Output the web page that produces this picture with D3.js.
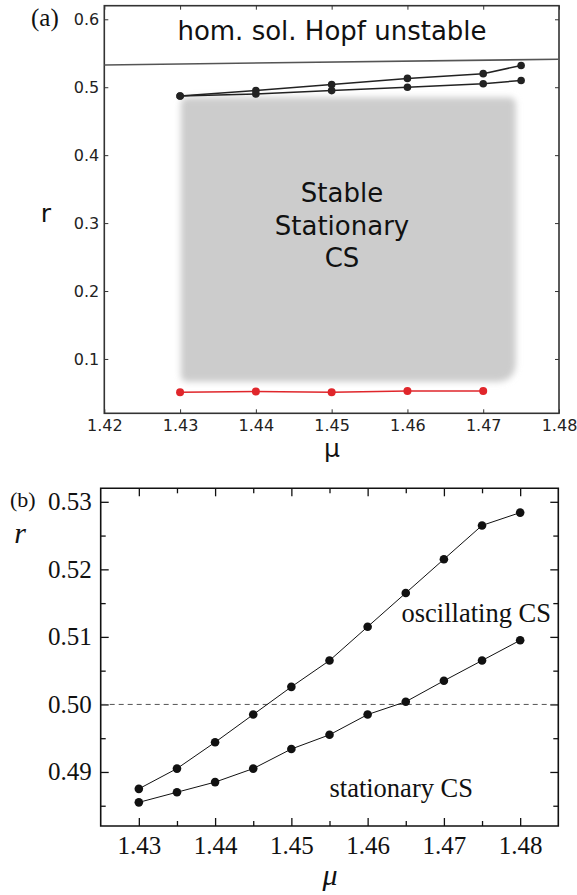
<!DOCTYPE html>
<html>
<head>
<meta charset="utf-8">
<script src="https://cdn.jsdelivr.net/npm/d3@7"></script>
<style>
  html, body { margin: 0; padding: 0; background: #fff; }
  svg { display: block; }
</style>
</head>
<body>
<svg id="fig" width="577" height="895"></svg>
<script>
// ---------- Panel (a): existence diagram ----------
const muA = [1.43, 1.44, 1.45, 1.46, 1.47, 1.475];
const upperA = [0.487, 0.495, 0.504, 0.513, 0.520, 0.532];
const lowerA = [0.487, 0.490, 0.495, 0.500, 0.505, 0.510];
const muRed = [1.43, 1.44, 1.45, 1.46, 1.47];
const rRed = [0.051, 0.052, 0.051, 0.053, 0.053];
const hopfMu = [1.42, 1.48];
const hopfR = [0.5328, 0.5412];
const stableMu = [1.4301, 1.4743];
const stableR = [0.0666, 0.485];
const xTicksA = [1.42, 1.43, 1.44, 1.45, 1.46, 1.47, 1.48];
const yTicksA = [0.1, 0.2, 0.3, 0.4, 0.5, 0.6];

// ---------- Panel (b): oscillation threshold ----------
const muB = [1.43, 1.435, 1.44, 1.445, 1.45, 1.455, 1.46, 1.465, 1.47, 1.475, 1.48];
const oscB = [0.4875, 0.4905, 0.4944, 0.4985, 0.5026, 0.5065, 0.5115, 0.5165, 0.5215, 0.5265, 0.5284];
const statB = [0.4855, 0.4870, 0.4885, 0.4905, 0.4934, 0.4955, 0.4985, 0.5004, 0.5035, 0.5065, 0.5095];
const refLineB = 0.50;
const xTicksB = [1.43, 1.44, 1.45, 1.46, 1.47, 1.48];
const xMinorB = [1.435, 1.445, 1.455, 1.465, 1.475];
const yTicksB = [0.49, 0.50, 0.51, 0.52, 0.53];
const yMinorB = [0.485, 0.495, 0.505, 0.515, 0.525];

const svg = d3.select("#fig");

// ===================== Panel (a) =====================
const A = { left: 104.3, right: 559, top: 5.7, bottom: 413.3 };
const xA = d3.scaleLinear().domain([1.42, 1.48]).range([A.left, A.right]);
const yA = d3.scaleLinear().domain([0.02, 0.62]).range([A.bottom, A.top]);
const sansA = "'DejaVu Sans', sans-serif";
const gA = svg.append("g");

const defs = svg.append("defs");
defs.append("filter").attr("id", "soft")
  .attr("x", "-10%").attr("y", "-10%").attr("width", "120%").attr("height", "120%")
  .append("feGaussianBlur").attr("stdDeviation", 3.2);

// stable stationary region (soft grey patch with a rounder lower-right corner)
(function () {
  const x0 = xA(stableMu[0]), x1 = xA(stableMu[1]);
  const y0 = yA(stableR[1]), y1 = yA(stableR[0]);
  const r = 7, rbr = 20;
  const p = d3.path();
  p.moveTo(x0 + r, y0);
  p.lineTo(x1 - r, y0);
  p.quadraticCurveTo(x1, y0, x1, y0 + r);
  p.lineTo(x1, y1 - rbr);
  p.quadraticCurveTo(x1, y1, x1 - rbr, y1);
  p.lineTo(x0 + r, y1);
  p.quadraticCurveTo(x0, y1, x0, y1 - r);
  p.lineTo(x0, y0 + r);
  p.quadraticCurveTo(x0, y0, x0 + r, y0);
  p.closePath();
  gA.append("path").attr("d", p.toString())
    .attr("fill", "#cccccc").attr("filter", "url(#soft)");
})();

// frame
gA.append("rect").attr("x", A.left).attr("y", A.top)
  .attr("width", A.right - A.left).attr("height", A.bottom - A.top)
  .attr("fill", "none").attr("stroke", "#333").attr("stroke-width", 1.6);

// axes with inward ticks
function styleAxisA(g) {
  g.select(".domain").remove();
  g.selectAll(".tick line").attr("stroke", "#333").attr("stroke-width", 1);
  g.selectAll(".tick text").attr("fill", "#222")
    .style("font-family", sansA).style("font-size", "16px");
}
gA.append("g").attr("transform", `translate(0,${A.bottom})`)
  .call(d3.axisBottom(xA).tickValues(xTicksA).tickFormat(d3.format(".2f"))
    .tickSize(-4).tickPadding(6.5))
  .call(styleAxisA);
gA.append("g").attr("transform", `translate(0,${A.top})`)
  .call(d3.axisTop(xA).tickValues(xTicksA).tickFormat("").tickSize(-4))
  .call(styleAxisA);
gA.append("g").attr("transform", `translate(${A.left},0)`)
  .call(d3.axisLeft(yA).tickValues(yTicksA).tickFormat(d3.format(".1f"))
    .tickSize(-4).tickPadding(5))
  .call(styleAxisA);
gA.append("g").attr("transform", `translate(${A.right},0)`)
  .call(d3.axisRight(yA).tickValues(yTicksA).tickFormat("").tickSize(-4))
  .call(styleAxisA);

// Hopf boundary of the homogeneous solution
gA.append("path")
  .datum(hopfMu.map((m, i) => [m, hopfR[i]]))
  .attr("d", d3.line().x(d => xA(d[0])).y(d => yA(d[1])))
  .attr("fill", "none").attr("stroke", "#555").attr("stroke-width", 1.6);

// branches
function seriesA(mu, rs, color, width, rad) {
  const pts = mu.map((m, i) => [m, rs[i]]);
  gA.append("path").datum(pts)
    .attr("d", d3.line().x(d => xA(d[0])).y(d => yA(d[1])))
    .attr("fill", "none").attr("stroke", color).attr("stroke-width", width);
  gA.append("g").selectAll("circle").data(pts).join("circle")
    .attr("cx", d => xA(d[0])).attr("cy", d => yA(d[1]))
    .attr("r", rad).attr("fill", color);
}
seriesA(muA, upperA, "#222", 1.5, 3.8);
seriesA(muA, lowerA, "#222", 1.5, 3.8);
seriesA(muRed, rRed, "#e0262b", 1.5, 4);

// annotations
gA.append("text").attr("x", 332).attr("y", 40).attr("text-anchor", "middle")
  .style("font-family", sansA).style("font-size", "26px").attr("fill", "#111")
  .text("hom. sol. Hopf unstable");
const stableLines = ["Stable", "Stationary", "CS"];
gA.append("g").selectAll("text").data(stableLines).join("text")
  .attr("x", 342).attr("y", (d, i) => 202 + i * 32.5).attr("text-anchor", "middle")
  .style("font-family", sansA).style("font-size", "26px").attr("fill", "#111")
  .text(d => d);
gA.append("text").attr("x", 332).attr("y", 457).attr("text-anchor", "middle")
  .style("font-family", sansA).style("font-size", "25px").attr("fill", "#111")
  .text("μ");
gA.append("text").attr("x", 46).attr("y", 222).attr("text-anchor", "middle")
  .style("font-family", sansA).style("font-size", "25px").attr("fill", "#111")
  .text("r");
gA.append("text").attr("x", 31).attr("y", 26)
  .style("font-family", "'Liberation Serif', 'Times New Roman', serif").style("font-size", "25px")
  .attr("fill", "#111").text("(a)");

// ===================== Panel (b) =====================
const B = { left: 100.7, right: 558.3, top: 488.3, bottom: 826 };
const xB = d3.scaleLinear().domain([1.425, 1.485]).range([B.left, B.right]);
const yB = d3.scaleLinear().domain([0.482, 0.532]).range([B.bottom, B.top]);
const serif = "'Liberation Serif', 'Times New Roman', serif";
const gB = svg.append("g");

function styleAxisB(g) {
  g.select(".domain").remove();
  g.selectAll(".tick line").attr("stroke", "#111").attr("stroke-width", 1.3);
  g.selectAll(".tick text").attr("fill", "#111")
    .style("font-family", serif).style("font-size", "25px");
}
// major ticks with labels
gB.append("g").attr("transform", `translate(0,${B.bottom})`)
  .call(d3.axisBottom(xB).tickValues(xTicksB).tickFormat(d3.format(".2f"))
    .tickSize(-8).tickPadding(10))
  .call(styleAxisB);
gB.append("g").attr("transform", `translate(${B.left},0)`)
  .call(d3.axisLeft(yB).tickValues(yTicksB).tickFormat(d3.format(".2f"))
    .tickSize(-8).tickPadding(9))
  .call(styleAxisB);
gB.append("g").attr("transform", `translate(0,${B.top})`)
  .call(d3.axisTop(xB).tickValues(xTicksB).tickFormat("").tickSize(-8))
  .call(styleAxisB);
gB.append("g").attr("transform", `translate(${B.right},0)`)
  .call(d3.axisRight(yB).tickValues(yTicksB).tickFormat("").tickSize(-8))
  .call(styleAxisB);
// minor ticks
gB.append("g").attr("transform", `translate(0,${B.bottom})`)
  .call(d3.axisBottom(xB).tickValues(xMinorB).tickFormat("").tickSize(-5))
  .call(styleAxisB);
gB.append("g").attr("transform", `translate(0,${B.top})`)
  .call(d3.axisTop(xB).tickValues(xMinorB).tickFormat("").tickSize(-5))
  .call(styleAxisB);
gB.append("g").attr("transform", `translate(${B.left},0)`)
  .call(d3.axisLeft(yB).tickValues(yMinorB).tickFormat("").tickSize(-5))
  .call(styleAxisB);
gB.append("g").attr("transform", `translate(${B.right},0)`)
  .call(d3.axisRight(yB).tickValues(yMinorB).tickFormat("").tickSize(-5))
  .call(styleAxisB);

// reference level
gB.append("line")
  .attr("x1", B.left).attr("x2", B.right)
  .attr("y1", yB(refLineB)).attr("y2", yB(refLineB))
  .attr("stroke", "#555").attr("stroke-width", 1).attr("stroke-dasharray", "5,4");

// frame
gB.append("path")
  .attr("d", `M${B.left},${B.top}V${B.bottom}H${B.right}V${B.top}H${B.left}Z`)
  .attr("fill", "none").attr("stroke", "#111").attr("stroke-width", 1.6);

function seriesB(rs) {
  const pts = muB.map((m, i) => [m, rs[i]]);
  gB.append("path").datum(pts)
    .attr("d", d3.line().x(d => xB(d[0])).y(d => yB(d[1])))
    .attr("fill", "none").attr("stroke", "#111").attr("stroke-width", 1);
  gB.append("g").selectAll("circle").data(pts).join("circle")
    .attr("cx", d => xB(d[0])).attr("cy", d => yB(d[1]))
    .attr("r", 4.3).attr("fill", "#111");
}
seriesB(oscB);
seriesB(statB);

gB.append("text").attr("x", 551).attr("y", 622).attr("text-anchor", "end")
  .style("font-family", serif).style("font-size", "26.5px").attr("fill", "#111")
  .text("oscillating CS");
gB.append("text").attr("x", 473).attr("y", 797).attr("text-anchor", "end")
  .style("font-family", serif).style("font-size", "26.5px").attr("fill", "#111")
  .text("stationary CS");
gB.append("text").attr("x", 20).attr("y", 543).attr("text-anchor", "middle")
  .style("font-family", serif).style("font-size", "30px").style("font-style", "italic")
  .attr("fill", "#111").text("r");
gB.append("text").attr("x", 330).attr("y", 885).attr("text-anchor", "middle")
  .style("font-family", serif).style("font-size", "30px").style("font-style", "italic")
  .attr("fill", "#111").text("μ");
gB.append("text").attr("x", 10).attr("y", 507)
  .style("font-family", serif).style("font-size", "22px")
  .attr("fill", "#111").text("(b)");
</script>
</body>
</html>
